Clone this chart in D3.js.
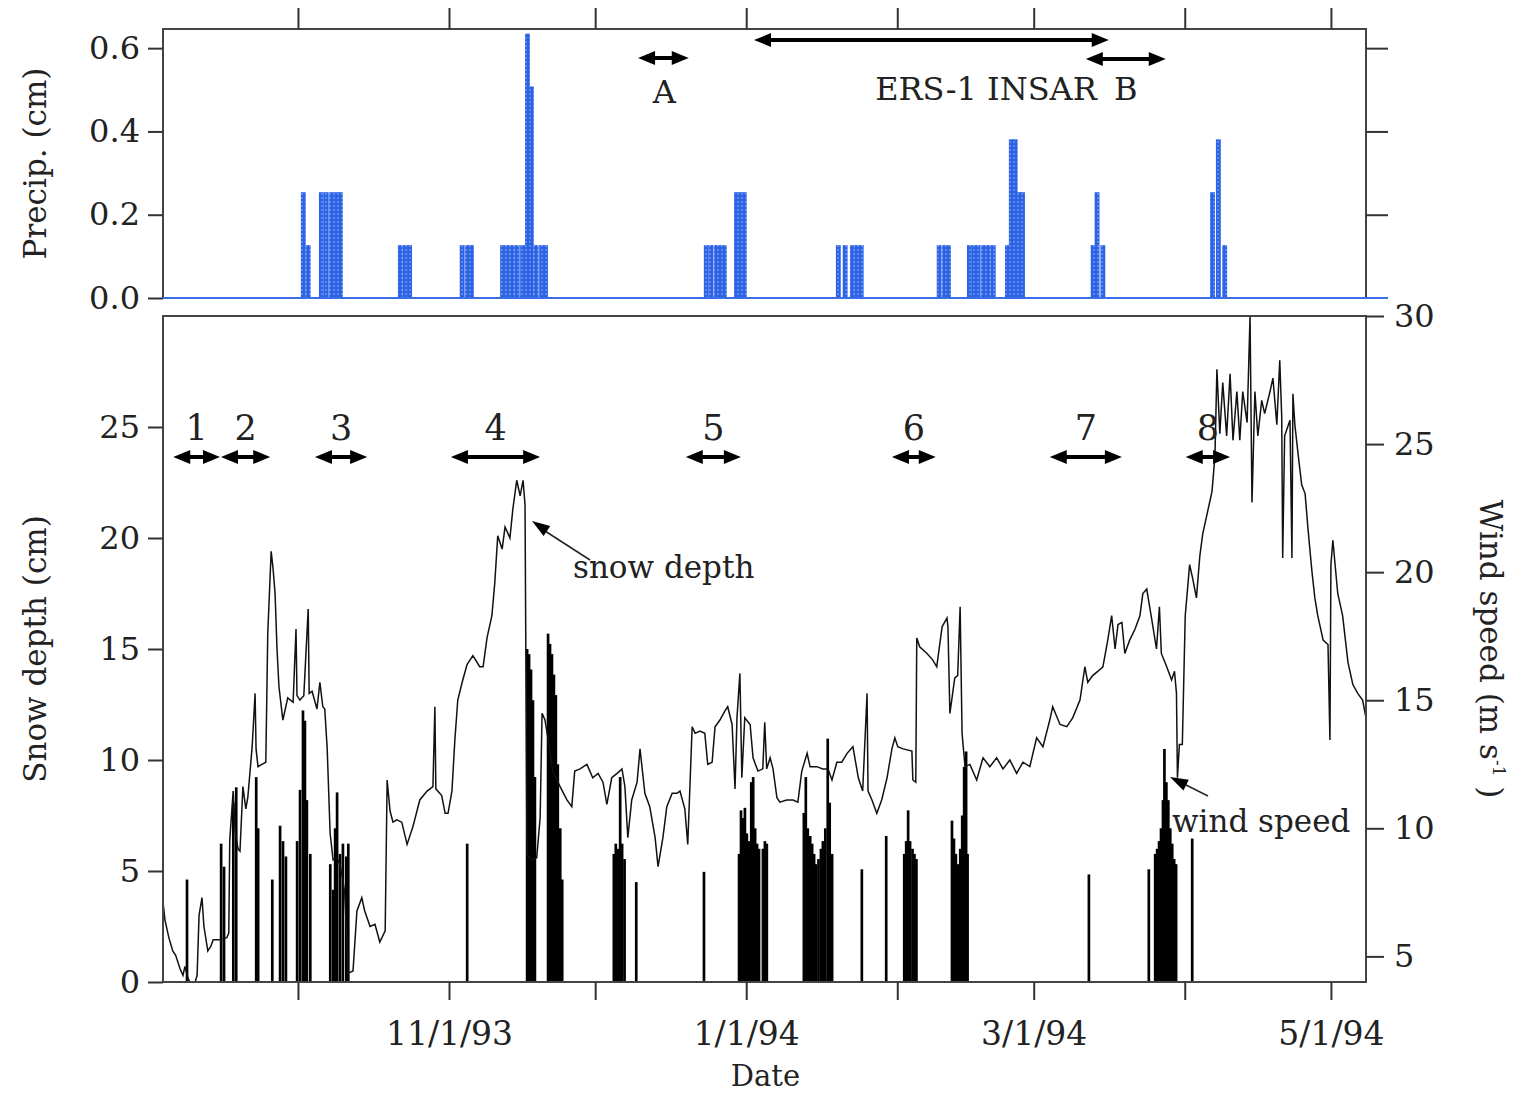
<!DOCTYPE html>
<html>
<head>
<meta charset="utf-8">
<script src="https://cdn.jsdelivr.net/npm/d3@7"></script>
<style>
body { margin: 0; background: #fff; }
svg text { font-family: "DejaVu Serif", serif; fill: #222; }
</style>
</head>
<body>
<div id="chart"></div>
<script>
// days are counted from 9/1/93 (day 0), fractions are parts of a day
var startDay = Date.UTC(1993, 8, 1);
function toDate(d) { return new Date(startDay + d * 864e5); }

var dateRange = [2.3, 249.2];

// precipitation (cm), one bar per day
var precipDays = [30.6, 31.6, 34.3, 35.3, 36.4, 37.4, 38.2, 50.5, 51.5, 52.4, 63.2, 64.3, 65.1,
  71.5, 72.5, 73.5, 74.5, 75.6, 76.6, 77.4, 78.4, 79.5, 80.3, 113.3, 114.3, 115.4, 116.2, 117.0,
  119.5, 120.3, 121.1, 140.4, 141.8, 143.3, 144.3, 145.1, 161.1, 162.2, 163.0,
  167.3, 168.3, 169.1, 170.2, 171.2, 172.2, 175.1, 175.9, 176.7, 177.5, 178.2,
  192.7, 193.5, 194.7, 217.2, 218.4, 219.7];
var precipValues = [0.254, 0.127, 0.254, 0.254, 0.254, 0.254, 0.254, 0.127, 0.127, 0.127, 0.127, 0.127, 0.127,
  0.127, 0.127, 0.127, 0.127, 0.127, 0.635, 0.508, 0.127, 0.127, 0.127, 0.127, 0.127, 0.127, 0.127, 0.127,
  0.254, 0.254, 0.254, 0.127, 0.127, 0.127, 0.127, 0.127, 0.127, 0.127, 0.127,
  0.127, 0.127, 0.127, 0.127, 0.127, 0.127, 0.127, 0.381, 0.381, 0.254, 0.254,
  0.127, 0.254, 0.127, 0.254, 0.381, 0.127];

// snow depth (cm) : [day, depth]
var snowDepth = [
  [2.3, 3.6], [2.7, 2.8], [3.5, 2.0], [4.3, 1.4], [4.9, 1.2], [5.8, 0.6], [6.4, 0.3], [6.8, 0.7], [7.4, 0.2],
  [7.8, 0], [8.9, 0], [9.3, 0.3], [9.7, 3.0], [10.3, 3.8], [10.7, 2.5], [11.5, 1.4], [12.1, 1.6], [12.6, 1.9],
  [14.0, 1.9], [15.4, 2.0], [15.8, 2.2], [16.0, 6.4], [16.7, 8.6], [17.1, 6.8], [17.7, 6.0], [18.1, 5.9],
  [18.7, 8.8], [19.3, 7.8], [19.7, 8.3], [20.6, 10.6], [21.2, 13.0], [21.4, 10.5], [21.8, 9.7], [22.6, 9.8],
  [23.4, 9.9], [23.8, 15.7], [24.5, 19.4], [24.9, 18.6], [25.3, 17.5], [25.7, 15.0], [26.1, 13.3], [26.9, 11.8],
  [27.9, 12.8], [29.0, 12.6], [29.6, 15.9], [29.8, 12.9], [30.4, 12.7], [31.2, 12.9], [32.1, 16.8], [32.3, 13.0],
  [32.9, 13.1], [33.9, 12.3], [34.5, 13.5], [35.1, 12.4], [35.5, 12.3], [36.0, 10.5], [36.6, 6.7], [37.2, 5.5],
  [38.0, 5.6], [38.6, 5.3], [39.2, 4.6], [39.6, 4.0], [40.1, 1.5], [40.3, 0.4], [41.3, 0.5], [42.1, 3.2],
  [43.1, 3.8], [43.7, 3.2], [44.8, 2.5], [45.8, 2.6], [46.8, 1.8], [47.9, 2.3], [48.3, 9.1], [48.9, 7.7],
  [49.5, 7.2], [50.3, 7.3], [51.3, 7.2], [52.4, 6.2], [53.6, 7.0], [55.0, 8.2], [56.5, 8.6], [57.7, 8.8],
  [58.1, 12.4], [58.3, 8.7], [59.5, 8.4], [60.2, 7.6], [60.8, 7.6], [61.6, 8.6], [62.2, 10.9], [62.8, 12.7],
  [63.7, 13.5], [64.7, 14.3], [65.9, 14.7], [67.3, 14.2], [68.0, 14.2], [68.8, 15.5], [69.8, 16.5], [70.4, 18.0],
  [71.0, 20.1], [71.9, 19.5], [72.5, 20.5], [73.5, 20.0], [74.1, 21.3], [74.9, 22.6], [75.6, 21.9], [76.2, 22.6],
  [76.6, 21.5], [77.0, 5.7], [78.0, 5.5], [79.0, 5.6], [79.7, 7.4], [80.1, 12.1], [80.7, 11.8], [81.3, 11.0],
  [82.3, 9.5], [83.8, 8.8], [85.2, 8.2], [86.2, 7.9], [86.8, 9.5], [87.9, 9.6], [89.3, 9.8], [90.5, 9.2],
  [91.6, 9.4], [92.6, 9.0], [93.4, 8.0], [94.4, 9.2], [95.5, 9.4], [96.5, 9.6], [97.1, 8.8], [97.7, 6.5],
  [98.5, 8.2], [99.6, 9.0], [100.2, 10.5], [101.2, 8.5], [102.2, 7.9], [103.3, 6.5], [103.9, 5.2], [104.9, 6.5],
  [105.7, 7.9], [106.8, 8.5], [107.8, 8.5], [108.4, 8.6], [109.4, 7.8], [110.0, 6.2], [110.9, 11.5], [111.5, 11.2],
  [112.5, 11.3], [113.5, 11.2], [114.1, 9.8], [115.0, 9.9], [115.6, 11.5], [116.6, 11.8], [117.6, 12.2], [118.2, 12.4],
  [119.1, 11.6], [119.7, 8.7], [120.1, 11.9], [120.7, 13.9], [121.1, 9.2], [121.7, 11.9], [122.8, 11.6], [123.4, 10.1],
  [124.4, 9.5], [125.4, 9.6], [125.8, 11.7], [126.2, 9.6], [126.9, 10.1], [127.5, 9.6], [128.3, 8.3], [128.9, 8.1],
  [130.3, 8.2], [131.6, 8.2], [132.6, 8.1], [133.4, 9.5], [134.5, 10.3], [135.1, 9.7], [136.5, 9.7], [137.7, 9.6],
  [138.8, 9.6], [139.6, 9.1], [140.6, 9.9], [141.6, 9.9], [142.7, 10.3], [143.9, 10.6], [145.0, 9.2], [145.9, 8.6],
  [146.8, 13.0], [147.0, 8.6], [147.8, 8.2], [148.8, 7.6], [149.8, 8.2], [150.9, 9.2], [151.9, 10.5], [152.5, 11.0],
  [153.1, 10.6], [154.2, 10.5], [156.0, 10.4], [156.2, 9.1], [156.8, 9.0], [157.0, 15.5], [157.6, 15.1], [159.1, 14.8],
  [160.3, 14.5], [161.1, 14.2], [162.2, 16.0], [163.2, 16.4], [163.4, 16.0], [163.8, 12.1], [164.8, 13.7], [165.4, 13.8],
  [165.9, 16.9], [166.3, 11.2], [166.9, 9.7], [167.9, 9.8], [169.3, 9.1], [170.6, 10.1], [172.0, 9.7], [173.4, 10.1],
  [174.7, 9.6], [176.1, 10.0], [177.5, 9.4], [178.8, 9.9], [180.2, 9.7], [181.6, 11.0], [182.9, 10.6], [184.3, 11.8],
  [184.9, 12.4], [186.4, 11.6], [187.8, 11.5], [189.0, 11.9], [190.5, 12.7], [191.5, 14.2], [192.1, 13.5], [193.1, 13.8],
  [194.2, 14.0], [195.2, 14.2], [196.2, 15.4], [197.0, 16.5], [197.7, 15.0], [198.3, 16.1], [199.1, 16.2], [199.7, 14.8],
  [200.7, 15.4], [201.8, 15.9], [202.8, 16.5], [203.4, 17.5], [204.2, 17.7], [204.8, 16.9], [205.4, 16.1], [206.2, 15.0],
  [206.8, 16.9], [207.2, 14.8], [208.3, 14.2], [209.3, 13.6], [209.9, 14.0], [210.3, 13.0], [210.5, 9.2], [210.9, 10.7],
  [211.5, 10.7], [212.1, 16.5], [213.0, 18.8], [213.6, 18.2], [214.4, 17.3], [215.1, 19.2], [215.7, 20.2], [216.5, 21.0],
  [217.6, 22.1], [218.2, 23.7], [218.6, 27.6], [219.2, 24.7], [219.8, 27.0], [220.6, 24.6], [221.3, 27.4], [221.9, 24.4],
  [222.7, 26.6], [223.3, 24.4], [223.9, 26.6], [224.8, 25.2], [225.4, 30.0], [225.8, 21.6], [226.4, 26.6], [227.0, 24.6],
  [227.8, 26.2], [228.4, 25.6], [229.5, 26.6], [230.1, 27.2], [230.9, 25.1], [231.5, 28.0], [231.9, 25.5], [232.1, 19.1],
  [232.5, 24.6], [233.6, 25.3], [234.0, 19.1], [234.2, 26.5], [234.6, 25.1], [235.2, 23.9], [236.0, 22.4], [236.7, 22.0],
  [237.3, 20.4], [238.1, 18.5], [238.7, 17.3], [239.3, 16.5], [240.4, 15.4], [241.4, 15.2], [241.8, 10.9], [242.0, 18.8],
  [242.4, 19.9], [243.4, 17.5], [244.4, 16.5], [245.5, 14.4], [246.5, 13.4], [247.5, 13.0], [248.5, 12.7], [249.2, 11.9]
];

// wind speed (m/s), plotted only during high wind events
var windDays = [7.2, 14.2, 14.8, 16.7, 17.3, 21.4, 21.8, 24.7, 26.3, 26.9, 27.5,
  29.8, 30.4, 31.0, 31.4, 31.8, 32.5, 36.6, 37.2, 37.6, 38.0, 38.6, 39.2, 39.9, 40.3, 64.7,
  77.0, 77.4, 77.8, 78.2, 78.6, 81.3, 81.7, 82.1, 82.5, 82.9, 83.3, 83.8, 84.2,
  94.8, 95.2, 95.6, 96.1, 96.5, 97.0, 99.4, 113.3,
  120.5, 120.9, 121.3, 121.7, 122.1, 122.5, 123.0, 123.4, 123.8, 124.2, 124.6, 125.4, 125.8, 126.2,
  133.8, 134.2, 134.6, 135.1, 135.5, 135.9, 136.3, 136.8, 137.3, 137.7, 138.2, 138.7, 139.1, 139.6,
  145.7, 150.7, 154.4, 154.8, 155.2, 155.6, 156.1, 156.5, 156.9,
  164.2, 164.6, 165.0, 165.5, 165.9, 166.3, 166.7, 167.1, 167.4, 192.3, 204.6,
  205.9, 206.3, 206.7, 207.1, 207.5, 207.8, 208.2, 208.6, 209.0, 209.4, 209.8, 210.2, 213.5];
var windValues = [8.0, 9.4, 8.5, 11.0, 11.6, 12.0, 10.0, 8.0, 10.1, 9.5, 8.9,
  9.5, 11.5, 14.6, 14.2, 11.1, 9.0, 8.6, 7.6, 10.0, 11.4, 9.0, 9.4, 8.9, 9.4, 9.4,
  17.0, 16.8, 16.2, 15.0, 12.0, 17.6, 17.2, 16.8, 16.0, 15.2, 12.5, 10.0, 8.0,
  9.0, 9.4, 9.2, 12.0, 9.4, 8.8, 7.9, 8.3,
  9.0, 10.7, 10.4, 10.8, 9.8, 9.5, 11.8, 12.0, 10.0, 9.4, 9.2, 9.2, 9.5, 9.4,
  10.6, 12.0, 10.0, 9.7, 9.4, 9.0, 8.6, 8.8, 9.2, 9.5, 10.0, 13.5, 11.0, 9.0,
  8.4, 9.7, 9.0, 9.5, 10.7, 9.5, 9.2, 9.0, 8.8,
  10.3, 9.6, 9.0, 8.6, 9.2, 10.5, 12.4, 13.0, 9.0, 8.2, 8.4,
  9.0, 9.2, 9.5, 10.0, 11.1, 13.1, 11.8, 11.1, 10.0, 9.4, 8.8, 8.6, 9.6];

// axes
var monthTicks = ["1993-10-01", "1993-11-01", "1993-12-01", "1994-01-01", "1994-02-01", "1994-03-01", "1994-04-01", "1994-05-01"];
var monthLabels = ["", "11/1/93", "", "1/1/94", "", "3/1/94", "", "5/1/94"];
var precipTicks = [0, 0.2, 0.4, 0.6];
var depthTicks = [0, 5, 10, 15, 20, 25];
var windTicks = [5, 10, 15, 20, 25, 30];

// numbered periods (days)
var periodNames = ["1", "2", "3", "4", "5", "6", "7", "8"];
var periodStart = [4.4, 14.2, 33.5, 61.4, 109.6, 151.9, 184.3, 212.2];
var periodEnd = [14.0, 24.3, 44.2, 79.7, 120.9, 160.9, 199.1, 221.3];

// image acquisitions (days)
var insarSpan = [123.6, 196.4];
var imageA = [99.8, 110.2];
var imageB = [191.7, 208.1];

var W = 1522, H = 1095;
var left = 163, right = 1366;
var top1 = 29, bot1 = 298, top2 = 316, bot2 = 982;

var svg = d3.select("#chart").append("svg")
  .attr("width", W).attr("height", H);

var x = d3.scaleUtc().domain(dateRange.map(toDate)).range([left, right]);
var yP = d3.scaleLinear().domain([0, 0.646]).range([bot1, top1]);
var yD = d3.scaleLinear().domain([0, 30]).range([bot2, top2]);
var yW = d3.scaleLinear().domain([4, 30]).range([bot2, top2]);
var monthDates = monthTicks.map(function (s) { return new Date(s + "T00:00:00Z"); });

var defs = svg.append("defs");
var pat = defs.append("pattern").attr("id", "dots")
  .attr("patternUnits", "userSpaceOnUse").attr("width", 4).attr("height", 4);
pat.append("rect").attr("width", 4).attr("height", 4).attr("fill", "#2c63e6");
pat.append("circle").attr("cx", 2).attr("cy", 2).attr("r", 0.8).attr("fill", "#9fb8f8");

function styleAxis(g, size) {
  g.select(".domain").remove();
  g.selectAll(".tick line").attr("stroke", "#333").attr("stroke-width", 2);
  g.selectAll("text").attr("font-family", "DejaVu Serif, serif")
    .attr("font-size", size).attr("fill", "#222");
}

// ---- top panel : precipitation ----
var precipG = svg.append("g");

precipG.selectAll(".pbar")
  .data(d3.zip(precipDays, precipValues))
  .enter().append("rect")
  .attr("x", function (d) { return x(toDate(d[0])); })
  .attr("width", function (d) { return x(toDate(d[0] + 1)) - x(toDate(d[0])); })
  .attr("y", function (d) { return yP(d[1]); })
  .attr("height", function (d) { return yP(0) - yP(d[1]); })
  .attr("fill", "url(#dots)");

precipG.append("rect")
  .attr("x", left).attr("y", top1).attr("width", right - left).attr("height", bot1 - top1)
  .attr("fill", "none").attr("stroke", "#444").attr("stroke-width", 2);

precipG.append("line")
  .attr("x1", left).attr("x2", right + 22).attr("y1", yP(0)).attr("y2", yP(0))
  .attr("stroke", "#3a6ee8").attr("stroke-width", 2);

precipG.append("g").attr("transform", "translate(" + left + ",0)")
  .call(d3.axisLeft(yP).tickValues(precipTicks).tickFormat(d3.format(".1f")).tickSize(15).tickPadding(8))
  .call(styleAxis, 32);
precipG.append("g").attr("transform", "translate(" + right + ",0)")
  .call(d3.axisRight(yP).tickValues([0.2, 0.4, 0.6]).tickFormat("").tickSize(22))
  .call(styleAxis, 32);
precipG.append("g").attr("transform", "translate(0," + top1 + ")")
  .call(d3.axisTop(x).tickValues(monthDates).tickFormat("").tickSize(21))
  .call(styleAxis, 32);

precipG.append("text")
  .attr("transform", "translate(46," + ((top1 + bot1) / 2) + ")rotate(-90)")
  .attr("text-anchor", "middle").attr("font-size", 31)
  .text("Precip. (cm)");

// ---- bottom panel : snow depth and wind speed ----
var snowG = svg.append("g");

snowG.selectAll(".wbar")
  .data(d3.zip(windDays, windValues))
  .enter().append("rect")
  .attr("x", function (d) { return x(toDate(d[0])) - 1.2; })
  .attr("width", function (d) { return Math.max(2.6, x(toDate(d[0] + 0.55)) - x(toDate(d[0]))); })
  .attr("y", function (d) { return yW(d[1]); })
  .attr("height", function (d) { return bot2 - yW(d[1]); })
  .attr("fill", "#000");

snowG.append("path")
  .datum(snowDepth)
  .attr("fill", "none").attr("stroke", "#111").attr("stroke-width", 1.5)
  .attr("d", d3.line()
    .x(function (d) { return x(toDate(d[0])); })
    .y(function (d) { return yD(d[1]); }));

snowG.append("rect")
  .attr("x", left).attr("y", top2).attr("width", right - left).attr("height", bot2 - top2)
  .attr("fill", "none").attr("stroke", "#444").attr("stroke-width", 2);

snowG.append("g").attr("transform", "translate(" + left + ",0)")
  .call(d3.axisLeft(yD).tickValues(depthTicks).tickSize(15).tickPadding(8))
  .call(styleAxis, 32);
snowG.append("g").attr("transform", "translate(" + right + ",0)")
  .call(d3.axisRight(yW).tickValues(windTicks).tickSize(18).tickPadding(10))
  .call(styleAxis, 32);
snowG.append("g").attr("transform", "translate(0," + bot2 + ")")
  .call(d3.axisBottom(x).tickValues(monthDates)
    .tickFormat(function (d, i) { return monthLabels[i]; }).tickSize(18).tickPadding(22))
  .call(styleAxis, 33);

snowG.append("text")
  .attr("transform", "translate(46," + ((top2 + bot2) / 2) + ")rotate(-90)")
  .attr("text-anchor", "middle").attr("font-size", 31)
  .text("Snow depth (cm)");

var wt = snowG.append("text")
  .attr("transform", "translate(1480," + ((top2 + bot2) / 2) + ")rotate(90)")
  .attr("text-anchor", "middle").attr("font-size", 31);
wt.append("tspan").text("Wind speed (m s");
wt.append("tspan").attr("font-size", 17).attr("dy", -13).text("-1");
wt.append("tspan").attr("dy", 13).text(" )");

svg.append("text")
  .attr("x", (left + right) / 2 + 1).attr("y", 1086)
  .attr("text-anchor", "middle").attr("font-size", 29)
  .text("Date");

// ---- arrows and labels ----
function arrowHead(g, tx, ty, ang, len, half) {
  var c = Math.cos(ang), s = Math.sin(ang);
  var bx = tx - len * c, by = ty - len * s;
  g.append("path")
    .attr("d", "M" + tx + "," + ty +
      "L" + (bx - half * s) + "," + (by + half * c) +
      "L" + (bx + half * s) + "," + (by - half * c) + "Z")
    .attr("fill", "#000");
}

function doubleArrow(g, d0, d1, y, width) {
  var x0 = x(toDate(d0)), x1 = x(toDate(d1));
  g.append("line")
    .attr("x1", x0 + 8).attr("x2", x1 - 8).attr("y1", y).attr("y2", y)
    .attr("stroke", "#000").attr("stroke-width", width);
  arrowHead(g, x0, y, Math.PI, 17, 7);
  arrowHead(g, x1, y, 0, 17, 7);
}

var notes = svg.append("g");

doubleArrow(notes, insarSpan[0], insarSpan[1], 40, 4);
doubleArrow(notes, imageA[0], imageA[1], 58, 4);
doubleArrow(notes, imageB[0], imageB[1], 59, 4);

notes.append("text")
  .attr("x", x(toDate((imageA[0] + imageA[1]) / 2)) + 1).attr("y", 103)
  .attr("text-anchor", "middle").attr("font-size", 32).text("A");
var bMid = x(toDate((imageB[0] + imageB[1]) / 2));
notes.append("text")
  .attr("x", bMid).attr("y", 100)
  .attr("text-anchor", "middle").attr("font-size", 32).text("B");
notes.append("text")
  .attr("x", bMid - 29).attr("y", 100)
  .attr("text-anchor", "end").attr("font-size", 32).text("ERS-1 INSAR");

periodNames.forEach(function (name, i) {
  doubleArrow(notes, periodStart[i], periodEnd[i], 457, 4);
  notes.append("text")
    .attr("x", x(toDate((periodStart[i] + periodEnd[i]) / 2))).attr("y", 440)
    .attr("text-anchor", "middle").attr("font-size", 35).text(name);
});

// snow depth pointer
notes.append("line")
  .attr("x1", 590).attr("y1", 560).attr("x2", 545).attr("y2", 531)
  .attr("stroke", "#222").attr("stroke-width", 1.5);
arrowHead(notes, 532, 521, Math.atan2(521 - 560, 532 - 590), 18, 6);
notes.append("text")
  .attr("x", 573).attr("y", 578).attr("font-size", 31).text("snow depth");

// wind speed pointer
notes.append("line")
  .attr("x1", 1208).attr("y1", 796).attr("x2", 1184).attr("y2", 784)
  .attr("stroke", "#222").attr("stroke-width", 1.5);
arrowHead(notes, 1170, 777, Math.atan2(777 - 796, 1170 - 1208), 18, 6);
notes.append("text")
  .attr("x", 1172).attr("y", 832).attr("font-size", 31).text("wind speed");
</script>
</body>
</html>
